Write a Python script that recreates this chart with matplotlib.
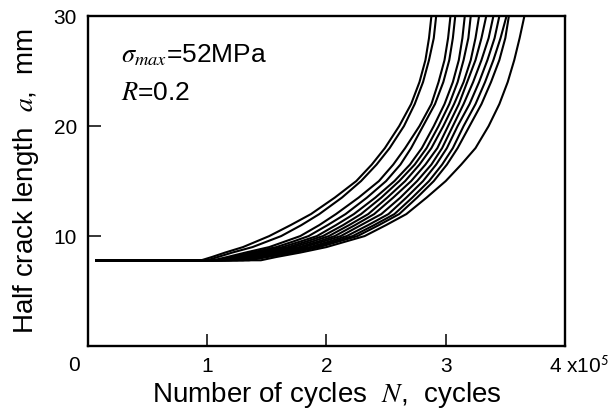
import matplotlib.pyplot as plt

plt.rcParams['font.family'] = ['Liberation Sans', 'DejaVu Sans']
plt.rcParams['mathtext.fontset'] = 'stix'

# half crack length levels (mm); the first two are the start point and the onset of growth
a_levels = [7.8, 7.8, 8.1, 8.5, 9, 9.5, 10, 11, 12, 13.5, 15, 16.5, 18, 20, 22, 24, 26, 28, 30]

# number of cycles (x1e5) at those levels
curves_N = [
    [0.06, 0.95, 1.04, 1.15, 1.30, 1.41, 1.52, 1.70, 1.87, 2.07, 2.25, 2.38, 2.49, 2.61, 2.71, 2.78, 2.83, 2.86, 2.88],
    [0.06, 1.00, 1.09, 1.21, 1.38, 1.50, 1.62, 1.79, 1.94, 2.13, 2.29, 2.42, 2.53, 2.65, 2.74, 2.81, 2.86, 2.90, 2.92],
    [0.06, 1.05, 1.17, 1.32, 1.52, 1.65, 1.78, 1.94, 2.08, 2.27, 2.44, 2.56, 2.66, 2.78, 2.88, 2.94, 2.99, 3.02, 3.04],
    [0.06, 1.08, 1.21, 1.37, 1.58, 1.72, 1.85, 2.01, 2.16, 2.34, 2.50, 2.62, 2.71, 2.81, 2.91, 2.98, 3.03, 3.06, 3.08],
    [0.06, 1.10, 1.24, 1.42, 1.63, 1.78, 1.92, 2.08, 2.23, 2.41, 2.57, 2.70, 2.80, 2.90, 2.99, 3.06, 3.11, 3.14, 3.16],
    [0.06, 1.12, 1.27, 1.46, 1.68, 1.83, 1.97, 2.14, 2.29, 2.46, 2.61, 2.74, 2.84, 2.94, 3.03, 3.10, 3.15, 3.19, 3.21],
    [0.06, 1.15, 1.30, 1.50, 1.72, 1.88, 2.02, 2.19, 2.35, 2.51, 2.66, 2.78, 2.88, 2.98, 3.07, 3.15, 3.21, 3.25, 3.28],
    [0.06, 1.18, 1.34, 1.54, 1.77, 1.93, 2.07, 2.24, 2.40, 2.56, 2.71, 2.83, 2.93, 3.02, 3.11, 3.18, 3.25, 3.30, 3.34],
    [0.06, 1.20, 1.37, 1.58, 1.81, 1.97, 2.12, 2.29, 2.46, 2.62, 2.76, 2.88, 2.97, 3.06, 3.15, 3.23, 3.30, 3.36, 3.40],
    [0.06, 1.25, 1.42, 1.63, 1.86, 2.02, 2.17, 2.35, 2.52, 2.67, 2.81, 2.92, 3.01, 3.10, 3.20, 3.28, 3.35, 3.41, 3.45],
    [0.06, 1.30, 1.47, 1.68, 1.90, 2.06, 2.22, 2.40, 2.57, 2.72, 2.86, 2.97, 3.06, 3.15, 3.25, 3.33, 3.40, 3.46, 3.51],
    [0.06, 1.35, 1.51, 1.72, 1.94, 2.10, 2.26, 2.44, 2.61, 2.76, 2.90, 3.01, 3.10, 3.20, 3.30, 3.38, 3.45, 3.50, 3.53],
    [0.06, 1.45, 1.58, 1.78, 2.00, 2.16, 2.32, 2.50, 2.67, 2.84, 3.00, 3.13, 3.25, 3.36, 3.45, 3.52, 3.575, 3.62, 3.66],
]

y_ticks = [10, 20, 30]
x_ticks = [1, 2, 3]

fig = plt.figure(figsize=(6.14, 4.12), dpi=100)
ax = fig.add_axes([0.1433, 0.160, 0.7768, 0.801])

for N in curves_N:
    ax.plot(N, a_levels, color='black', lw=1.5, solid_capstyle='butt', solid_joinstyle='round')

ax.set_xlim(0, 4)
ax.set_ylim(0, 30)

ax.set_yticks(y_ticks)
ax.set_xticks(x_ticks)
ax.tick_params(direction='in', length=9, width=1.1, labelsize=15, colors='black')
ax.tick_params(axis='y', pad=8)
ax.tick_params(axis='x', pad=8)
for s in ax.spines.values():
    s.set_linewidth(1.7)

# corner "0" and the scale factor sit beside the tick labels
ax.text(-0.12, -1.8, '0', ha='center', va='center', fontsize=15)
ax.text(3.87, -1.8, '4 x10$^{\\mathsf{5}}$', ha='left', va='center', fontsize=15)

ax.text(0.28, 26.4, r'$\sigma_{max}$=52MPa', fontsize=19, va='center')
ax.text(0.28, 23.0, r'$R$=0.2', fontsize=19, va='center')

ax.set_xlabel(r'Number of cycles  $N$,  cycles', fontsize=20, labelpad=3)
ax.set_ylabel(r'Half crack length  $a$,  mm', fontsize=20, labelpad=9)

fig.savefig('out.png', dpi=100)
